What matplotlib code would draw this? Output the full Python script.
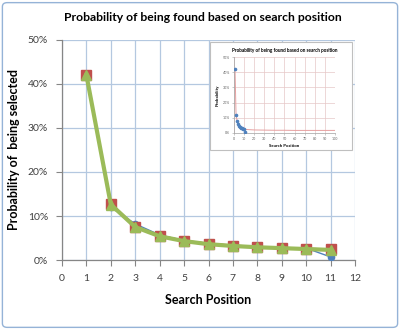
import matplotlib
matplotlib.use("Agg")
import matplotlib.pyplot as plt
from matplotlib.patches import FancyBboxPatch, Rectangle
from matplotlib.ticker import PercentFormatter

plt.rcParams['font.family'] = ['Lato', 'DejaVu Sans']

# Observed click-through share by search position
positions = [1, 2, 3, 4, 5, 6, 7, 8, 9, 10, 11]
observed = [42.0, 12.0, 8.2, 5.7, 4.4, 3.8, 3.3, 3.0, 2.7, 2.7, 0.7]
# Fitted trend values at the same positions
fit_red = [42.0, 12.8, 7.6, 5.5, 4.4, 3.7, 3.3, 3.0, 2.8, 2.6, 2.4]
fit_green = [42.0, 12.6, 7.5, 5.4, 4.3, 3.6, 3.2, 2.9, 2.7, 2.5, 2.3]

# Extended trend for the overview panel (positions up to 100)
overview_x = [1, 2, 3, 4, 5, 6, 7, 8, 9, 10, 11, 15, 20, 30, 40, 50, 60, 70, 80, 90, 100]
overview_fit = [42.0, 12.8, 7.6, 5.5, 4.4, 3.7, 3.3, 3.0, 2.8, 2.6, 2.4, 2.2, 2.0, 1.9,
                1.8, 1.8, 1.7, 1.7, 1.7, 1.7, 1.7]

x_ticks = list(range(0, 13))
y_ticks = [0, 10, 20, 30, 40, 50]

BLUE = '#4f81bd'
RED = '#c0504d'
GREEN = '#9bbb59'
GRID = '#b4c8e0'
AXIS = '#868686'

fig = plt.figure(figsize=(4.0, 3.3), dpi=100)
fig.patch.set_facecolor('white')
fig.patches.append(FancyBboxPatch((0.006, 0.008), 0.988, 0.984,
                                  boxstyle='round,pad=0,rounding_size=0.012',
                                  transform=fig.transFigure, facecolor='none',
                                  edgecolor='#95b3d7', linewidth=1.0))

ax = fig.add_axes([0.155, 0.212, 0.7325, 0.667])
ax.set_xlim(0, 12)
ax.set_ylim(0, 50)
ax.set_xticks(x_ticks)
ax.set_yticks(y_ticks)
ax.yaxis.set_major_formatter(PercentFormatter(decimals=0))
ax.grid(True, color=GRID, linewidth=0.9)
ax.set_axisbelow(True)
for side in ('top', 'right'):
    ax.spines[side].set_visible(False)
for side in ('left', 'bottom'):
    ax.spines[side].set_color(AXIS)
    ax.spines[side].set_linewidth(0.9)
ax.tick_params(axis='both', direction='out', length=4, color=AXIS, width=0.8,
               labelsize=7.5, labelcolor='#404040', pad=6)

ax.plot(positions, observed, color=BLUE, linewidth=1.0, marker='o', markersize=4.5,
        markerfacecolor=BLUE, markeredgecolor=BLUE, zorder=3)
ax.plot(positions, fit_red, color=RED, linewidth=1.5, marker='s', markersize=7,
        markerfacecolor=RED, markeredgecolor=RED, zorder=4)
ax.plot(positions, fit_green, color=GREEN, linewidth=3.0, marker='^', markersize=7,
        markerfacecolor=GREEN, markeredgecolor=GREEN, zorder=5)

ax.set_xlabel('Search Position', fontsize=9, fontweight='bold', labelpad=8)
ax.set_ylabel('Probability of  being selected', fontsize=9, fontweight='bold', labelpad=6)
fig.text(0.508, 0.948, 'Probability of being found based on search position',
         ha='center', va='center', fontsize=8.7, fontweight='bold')

# Overview panel covering positions up to 100
fig.patches.append(Rectangle((0.525, 0.545), 0.355, 0.327, transform=fig.transFigure,
                             facecolor='white', edgecolor='#bfbfbf', linewidth=0.8,
                             zorder=10))
ins = fig.add_axes([0.585, 0.597, 0.2525, 0.23], zorder=11)
ins.set_xlim(0, 100)
ins.set_ylim(0, 50)
ins.set_xticks(range(0, 101, 10))
ins.set_yticks(y_ticks)
ins.yaxis.set_major_formatter(PercentFormatter(decimals=0))
ins.grid(True, color='#e6c8c8', linewidth=0.5)
ins.set_axisbelow(True)
for side in ('top', 'right'):
    ins.spines[side].set_visible(False)
for side in ('left', 'bottom'):
    ins.spines[side].set_color('#a0a0a0')
    ins.spines[side].set_linewidth(0.5)
ins.tick_params(axis='both', length=1.5, width=0.4, color='#a0a0a0',
                labelsize=2.6, labelcolor='#606060', pad=1.5)
ins.plot(overview_x, overview_fit, color='#e6a0a0', linewidth=0.7, zorder=2)
ins.plot(positions, observed, linestyle='none', marker='o', markersize=1.6,
         color=BLUE, zorder=3)
ins.set_xlabel('Search Position', fontsize=3.2, fontweight='bold', labelpad=2)
ins.set_ylabel('Probability', fontsize=3.2, fontweight='bold', labelpad=2)
ins.set_title('Probability of being found based on search position',
              fontsize=3.3, fontweight='bold', pad=4)

fig.savefig('out.png', dpi=100)
